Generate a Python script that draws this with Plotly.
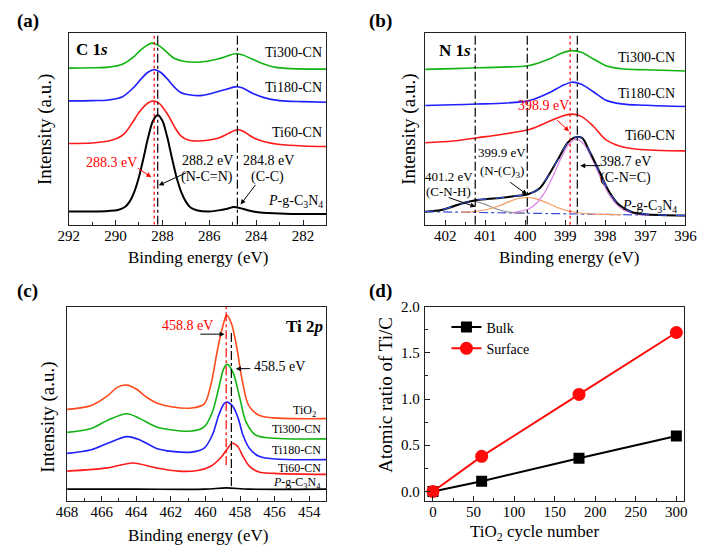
import plotly.graph_objects as go

W, H = 711, 547
FONT = "Liberation Serif"

def px(x):
    return x / W

def py(y):
    return 1 - y / H

# ---------------- Panel (a): C 1s ----------------
A_X_PG = [292.0, 291.0, 290.3, 289.9, 289.6, 289.4, 289.2, 289.0, 288.8, 288.6, 288.4, 288.2, 288.0, 287.8,
          287.6, 287.4, 287.2, 287.0, 286.8, 286.5, 286.0, 285.5, 285.2, 284.95, 284.7, 284.4, 284.0, 283.5,
          282.5, 281.0]
A_Y_PG = [13.5, 13.5, 14, 15, 18, 23.5, 33.5, 48.5, 68.5, 89.5, 105.5, 111.5, 105.5, 89.5, 68.5, 48.5,
          33.5, 23.5, 17.5, 14.5, 13.5, 15, 16.5, 18, 17, 15, 13, 12, 11, 11]
A_X_TI60 = [292.0, 291.0, 290.3, 289.9, 289.6, 289.3, 289.0, 288.75, 288.5, 288.35, 288.15, 287.95, 287.7,
            287.45, 287.2, 286.9, 286.5, 286.0, 285.6, 285.2, 284.95, 284.75, 284.55, 284.3, 284.0, 283.6,
            283.0, 282.0, 281.0]
A_Y_TI60 = [82.5, 83, 85, 88, 93, 103, 114, 121, 125, 125.5, 123.5, 118, 109, 98, 90, 86, 85, 86, 88, 92.5,
            95.5, 96.5, 95, 91, 87, 84, 81.5, 80, 79.5]
A_X_TI180 = [292.0, 291.0, 290.3, 289.7, 289.2, 288.9, 288.6, 288.35, 288.1, 287.8, 287.5, 287.2, 286.8,
             286.3, 285.8, 285.3, 284.9, 284.6, 284.2, 283.7, 283.0, 282.0, 281.0]
A_Y_TI180 = [125.7, 126, 126.7, 130, 140, 148.3, 155, 157.3, 155, 148.3, 140, 134, 131.7, 131.3, 134,
             137.3, 140, 139, 134, 129.3, 126, 125, 124.3]
A_X_TI300 = [292.0, 291.0, 290.3, 289.7, 289.2, 288.9, 288.6, 288.4, 288.1, 287.8, 287.5, 287.1, 286.6,
             286.1, 285.6, 285.2, 284.9, 284.6, 284.2, 283.7, 283.2, 282.5, 281.0]
A_Y_TI300 = [159, 159.3, 160, 163, 171, 178, 183, 184.3, 181, 175, 169, 166, 165, 166, 168.5, 171.5,
             173.5, 172.5, 168.5, 163.5, 160, 158.5, 158]
A_LINE_RED = [288.35]
A_LINE_BLACK = [288.2, 284.8]

# ---------------- Panel (b): N 1s ----------------
B_X_TI = [402.5, 401.8, 401.2, 400.6, 399.9, 399.4, 399.1, 398.84, 398.6, 398.3, 398.0, 397.6, 397.0, 396.0]
B_Y_TI300 = [157.7, 158.5, 159.3, 160, 161.7, 168.3, 174, 176.7, 175, 168.3, 161.7, 158.3, 157.3, 156]
B_Y_TI180 = [121, 121.8, 122.5, 123.3, 126, 134, 140.7, 144.7, 142.7, 135, 126.7, 122.7, 121.3, 120]
B_X_TI60 = [402.5, 401.8, 401.2, 400.6, 399.9, 399.4, 399.1, 398.84, 398.6, 398.3, 398.0, 397.65, 397.2, 396.0]
B_Y_TI60 = [83.3, 85, 88.3, 91.7, 96.7, 105, 110, 112.3, 110, 100, 86.7, 80, 76.7, 75]
B_X_PG = [402.5, 402.1, 401.84, 401.5, 401.24, 400.9, 400.63, 400.3, 399.93, 399.65, 399.42, 399.18,
          398.94, 398.78, 398.65, 398.57, 398.38, 398.14, 397.9, 397.65, 397.33, 397.0, 396.0]
B_Y_PG = [13.3, 15, 18.3, 22.7, 25, 26.3, 27.3, 29, 31, 36.7, 50, 66.7, 83.3, 88.5, 89, 87.7, 73.3, 53.3,
          33.3, 20, 12.7, 10.7, 9.3]
B_X_CNC = [400.3, 399.92, 399.72, 399.52, 399.32, 399.12, 398.92, 398.72, 398.52, 398.32, 398.12, 397.92,
           397.72, 397.52, 397.22, 396.8]
B_Y_CNC = [12.4, 16.0, 21.9, 32.6, 48.3, 66.4, 81.3, 87, 81, 65.9, 47.6, 31.6, 20.7, 14.5, 10.9, 9.8]
B_X_NC3 = [401.6, 401.3, 401.0, 400.7, 400.4, 400.15, 399.95, 399.75, 399.5, 399.2, 398.9, 398.6, 398.3,
           398.0, 397.6]
B_Y_NC3 = [12.9, 13.4, 15.0, 18.5, 23.5, 26.9, 27.7, 26.6, 23.0, 17.6, 13.7, 11.7, 10.9, 10.5, 10.3]
B_X_CNH = [402.5, 402.2, 402.0, 401.8, 401.6, 401.45, 401.3, 401.15, 401.0, 400.8, 400.6, 400.3, 400.0]
B_Y_CNH = [13.4, 14.0, 15.4, 17.9, 21.0, 23.0, 23.6, 22.8, 20.7, 17.3, 14.5, 12.4, 11.8]
B_X_BASE = [402.5, 396.0]
B_Y_BASE = [13.3, 9.3]
B_LINE_RED = [398.88]
B_LINE_BLACK = [401.25, 399.95, 398.7]

# ---------------- Panel (c): Ti 2p ----------------
C_X_TIO2 = [468.0, 466.6, 465.65, 465.1, 464.54, 464.0, 463.4, 462.7, 461.9, 460.8, 460.07, 459.7, 459.3,
            459.0, 458.77, 458.5, 458.2, 457.85, 457.5, 456.9, 456.0, 453.0]
C_Y_TIO2 = [92.7, 96.7, 106.7, 115, 117.3, 113.3, 105, 98.3, 95, 94, 98.3, 116.7, 153.3, 176.7, 188.3, 180,
            156.7, 120, 96.7, 86.7, 84, 83.3]
C_X_TI300 = [468.0, 466.6, 465.65, 464.54, 463.79, 462.86, 461.93, 460.8, 460.07, 459.6, 459.2, 458.96,
             458.74, 458.4, 458.0, 457.65, 457.1, 456.0, 453.0]
C_Y_TI300 = [69.3, 73.3, 81.7, 88.3, 83.3, 75, 71.7, 70.7, 75, 90, 116.7, 133.3, 138.3, 130, 103.3, 80,
             66.7, 63.3, 62.7]
C_X_TI180 = [468.0, 466.6, 465.65, 464.54, 463.79, 462.86, 461.93, 460.8, 460.07, 459.6, 459.23, 458.93,
             458.74, 458.39, 458.1, 457.83, 457.46, 456.9, 456.0, 453.0]
C_Y_TI180 = [48, 51.7, 58.3, 65, 61.7, 53.3, 50, 49.3, 53.3, 66.7, 86.7, 98.3, 100, 95, 83.3, 66.7, 53.3,
             45, 42.3, 41.7]
C_X_TI60 = [468.0, 465.65, 464.2, 462.86, 461.56, 460.45, 459.69, 459.13, 458.77, 458.44, 458.13, 457.83,
            457.46, 456.9, 456.0, 453.0]
C_Y_TI60 = [30, 33.3, 38.3, 33.3, 30, 30.7, 35, 43.3, 51.7, 58.3, 55, 45, 35, 29, 27.7, 26.7]
C_X_PG = [468.0, 464.0, 460.0, 458.8, 457.5, 453.0]
C_Y_PG = [11.7, 11.7, 11.7, 13, 11.7, 11.7]
C_LINE_RED = [458.8]
C_LINE_BLACK = [458.5]

# ---------------- Panel (d): Ti/C ratio ----------------
D_CYCLES = [0, 60, 180, 300]
D_BULK = [0.0, 0.11, 0.36, 0.60]
D_SURFACE = [0.0, 0.38, 1.05, 1.72]

GREEN = "#12b312"
BLUE = "#1f1fff"
RED = "#ff1a1a"
ORANGE_RED = "#ff4a1c"

fig = go.Figure()

def spec(x, y, color, xa, ya, width=1.6, dash=None):
    fig.add_trace(go.Scatter(x=x, y=y, mode="lines", xaxis=xa, yaxis=ya, showlegend=False,
                             line=dict(color=color, width=width, shape="spline", smoothing=0.9,
                                       dash=dash)))

# (a)
spec(A_X_TI300, A_Y_TI300, GREEN, "x", "y")
spec(A_X_TI180, A_Y_TI180, BLUE, "x", "y")
spec(A_X_TI60, A_Y_TI60, RED, "x", "y")
spec(A_X_PG, A_Y_PG, "black", "x", "y", width=2)

# (b)
spec(B_X_TI, B_Y_TI300, GREEN, "x2", "y2")
spec(B_X_TI, B_Y_TI180, BLUE, "x2", "y2")
spec(B_X_TI60, B_Y_TI60, RED, "x2", "y2")
spec(B_X_BASE, B_Y_BASE, "#3a4fd0", "x2", "y2", width=1.2, dash="dashdot")
spec(B_X_CNH, B_Y_CNH, "#8f8f8f", "x2", "y2", width=1.2)
spec(B_X_NC3, B_Y_NC3, "#f59a62", "x2", "y2", width=1.2)
spec(B_X_CNC, B_Y_CNC, "#dd7fe8", "x2", "y2", width=1.2)
spec(B_X_PG, B_Y_PG, "black", "x2", "y2", width=2)
spec(B_X_PG, B_Y_PG, "#3a5cff", "x2", "y2", width=1, dash="dash")

# (c)
spec(C_X_PG, C_Y_PG, "black", "x3", "y3", width=1.6)
spec(C_X_TI60, C_Y_TI60, RED, "x3", "y3")
spec(C_X_TI180, C_Y_TI180, BLUE, "x3", "y3")
spec(C_X_TI300, C_Y_TI300, GREEN, "x3", "y3")
spec(C_X_TIO2, C_Y_TIO2, ORANGE_RED, "x3", "y3")

# (d)
fig.add_trace(go.Scatter(x=D_CYCLES, y=D_BULK, mode="lines+markers", name="Bulk", xaxis="x4", yaxis="y4",
                         line=dict(color="black", width=2),
                         marker=dict(symbol="square", size=11, color="black")))
fig.add_trace(go.Scatter(x=D_CYCLES, y=D_SURFACE, mode="lines+markers", name="Surface", xaxis="x4",
                         yaxis="y4", line=dict(color="#ff0a0a", width=2),
                         marker=dict(symbol="circle", size=13, color="#ff0a0a")))

# vertical reference lines
shapes = []
def vline(xv, xa, ya, color, dash, y0, y1, width=1.2):
    shapes.append(dict(type="line", xref=xa, yref=ya, x0=xv, x1=xv, y0=y0, y1=y1,
                       line=dict(color=color, dash=dash, width=width)))

for v in A_LINE_RED:
    vline(v, "x", "y", "red", "dot", 0, 195)
for v in A_LINE_BLACK:
    vline(v, "x", "y", "black", "dashdot", 0, 195)
for v in B_LINE_RED:
    vline(v, "x2", "y2", "red", "dot", 0, 195)
for v in B_LINE_BLACK:
    vline(v, "x2", "y2", "black", "dashdot", 0, 195)
for v in C_LINE_RED:
    vline(v, "x3", "y3", "red", "dashdot", 36, 197)
for v in C_LINE_BLACK:
    vline(v, "x3", "y3", "black", "dashdot", 15, 173)

def xspec(domain, anchor, rng, dtick, mdtick):
    return dict(domain=domain, anchor=anchor, range=rng, autorange=False, showgrid=False, zeroline=False,
                showline=True, linecolor="#222", linewidth=1.2, mirror=True, ticks="inside", ticklen=5,
                tickwidth=1, tickcolor="#222", dtick=dtick, tick0=0,
                minor=dict(ticks="inside", ticklen=3, dtick=mdtick, tick0=0, tickcolor="#222", showgrid=False),
                tickfont=dict(family=FONT, size=15, color="black"), ticklabelstandoff=-3)

def yspec(domain, anchor, rng):
    return dict(domain=domain, anchor=anchor, range=rng, autorange=False, showgrid=False, zeroline=False,
                showline=True, linecolor="#222", linewidth=1.2, mirror=True, ticks="",
                showticklabels=False)

ann = []
def txt(x, y, text, size=14, color="black", xanchor="center", angle=0):
    ann.append(dict(x=px(x), y=py(y), xref="paper", yref="paper", text=text, showarrow=False,
                    xanchor=xanchor, yanchor="middle", textangle=angle,
                    font=dict(family=FONT, size=size, color=color)))

def arrow(tx, ty, hx, hy, color="black"):
    ann.append(dict(x=px(hx), y=py(hy), xref="paper", yref="paper", text="", showarrow=True,
                    ax=tx - hx, ay=ty - hy, arrowhead=2, arrowsize=1, arrowwidth=1, arrowcolor=color,
                    font=dict(family=FONT, size=12)))

PG = "<i>P</i>-g-C<sub>3</sub>N<sub>4</sub>"

# panel letters
txt(4, 13, "<b>(a)</b>", 19, xanchor="left")
txt(368, 13, "<b>(b)</b>", 19, xanchor="left")
txt(4, 287, "<b>(c)</b>", 19, xanchor="left")
txt(368, 287, "<b>(d)</b>", 19, xanchor="left")

# axis titles
txt(193, 253, "Binding energy (eV)", 17)
txt(577, 253, "Binding energy (eV)", 17)
txt(193, 535, "Binding energy (eV)", 17)
txt(541, 533, "TiO<sub>2</sub> cycle number", 17)
txt(35, 123, "Intensity (a.u.)", 19, angle=-90)
txt(412, 123, "Intensity (a.u.)", 19, angle=-90)
txt(38, 415, "Intensity (a.u.)", 19, angle=-90)
txt(387, 392, "Atomic ratio of Ti/C", 19, angle=-90)

# (a) texts
txt(65, 42, "<b>C 1<i>s</i></b>", 17, xanchor="left")
txt(323, 45, "Ti300-CN", 14, xanchor="right")
txt(323, 81, "Ti180-CN", 14, xanchor="right")
txt(323, 126, "Ti60-CN", 14, xanchor="right")
txt(325, 196, PG, 14, xanchor="right")
txt(104, 157, "288.3 eV", 14, color="red")
txt(203, 155, "288.2 eV", 14)
txt(203, 172, "(N-C=N)", 14)
txt(266, 155, "284.8 eV", 14)
txt(265, 172, "(C-C)", 14)
arrow(130, 161.7, 145, 171.7, "red")
arrow(181.7, 166.7, 152.7, 180)
arrow(253.3, 178.3, 237.3, 199.3)

# (b) texts
txt(440, 43, "<b>N 1<i>s</i></b>", 17, xanchor="left")
txt(688, 50, "Ti300-CN", 14, xanchor="right")
txt(688, 87, "Ti180-CN", 14, xanchor="right")
txt(688, 129, "Ti60-CN", 14, xanchor="right")
txt(690, 201, PG, 14, xanchor="right")
txt(550, 99, "398.9 eV", 14, color="red")
arrow(563.3, 112.7, 576.7, 125, "red")
txt(507, 147, "399.9 eV", 13)
txt(507, 166, "(N-(C)<sub>3</sub>)", 13)
txt(453, 171, "401.2 eV", 13)
txt(452, 186, "(C-N-H)", 13)
arrow(451.7, 192, 480, 201.7)
arrow(515, 176, 533.3, 189.3)
txt(635, 156, "398.7 eV", 14)
txt(635, 173, "(C-N=C)", 14)
arrow(610, 160, 588.3, 160)

# (c) texts
txt(325, 323, "<b>Ti 2<i>p</i></b>", 17, xanchor="right")
txt(182, 322.7, "458.8 eV", 14, color="red")
arrow(195, 331, 220.7, 331)
txt(277, 364.3, "458.5 eV", 14)
arrow(248.3, 366, 232.3, 366)
txt(317, 409, "TiO<sub>2</sub>", 12, xanchor="right")
txt(322, 427, "Ti300-CN", 12, xanchor="right")
txt(322, 448.3, "Ti180-CN", 12, xanchor="right")
txt(322, 466.5, "Ti60-CN", 12, xanchor="right")
txt(322, 482.5, PG, 12, xanchor="right")

fig.update_layout(
    width=W, height=H, margin=dict(l=0, r=0, t=0, b=0),
    paper_bgcolor="white", plot_bgcolor="white",
    font=dict(family=FONT, size=14, color="black"),
    xaxis=xspec([px(59.6), px(326)], "y", [292, 281], 2, 1),
    yaxis=yspec([py(220), py(25)], "x", [0, 195]),
    xaxis2=xspec([px(428), px(697)], "y2", [402.5, 396], 1, 0.5),
    yaxis2=yspec([py(220), py(25)], "x2", [0, 195]),
    xaxis3=xspec([px(58), px(326)], "y3", [468, 453], 2, 1),
    yaxis3=yspec([py(500), py(303)], "x3", [0, 197]),
    xaxis4=xspec([px(427.7), px(696)], "y4", [-10, 310], 50, 25),
    yaxis4=dict(domain=[py(500), py(303)], anchor="x4", range=[-0.1, 2.001], autorange=False,
                showgrid=False, zeroline=False, showline=True, linecolor="#222", linewidth=1.2,
                mirror=True, ticks="inside", ticklen=5, tickcolor="#222", dtick=0.5, tick0=0,
                tickformat=".1f", minor=dict(ticks="inside", ticklen=3, dtick=0.25, tickcolor="#222"),
                tickfont=dict(family=FONT, size=15, color="black"), ticklabelstandoff=1),
    shapes=shapes,
    annotations=ann,
    legend=dict(x=px(450), y=py(308), xanchor="left", yanchor="top", bgcolor="rgba(0,0,0,0)",
                font=dict(family=FONT, size=14, color="black"), itemwidth=30, tracegroupgap=0),
    showlegend=True,
)

fig.write_html("out.html", config={"displayModeBar": False},
               post_script="document.body.style.margin='0px';document.body.style.overflow='hidden';")
